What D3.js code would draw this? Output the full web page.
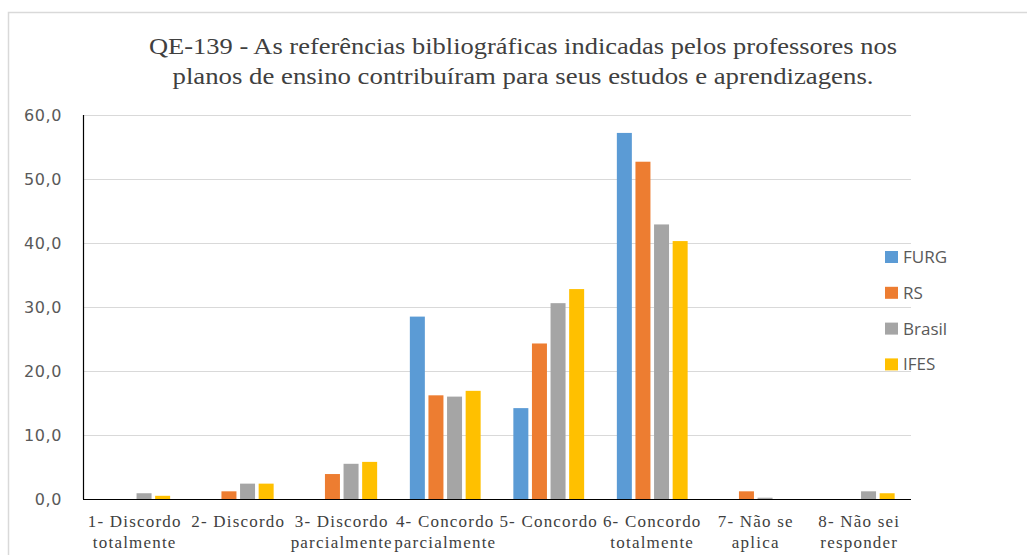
<!DOCTYPE html>
<html>
<head>
<meta charset="utf-8">
<script src="https://cdn.jsdelivr.net/npm/d3@7"></script>
<style>
  body { margin: 0; background: #fff; }
  svg { display: block; }
</style>
</head>
<body>
<svg id="chart" width="1027" height="555"></svg>
<script>
const titleLines = [
  'QE-139 - As referências bibliográficas indicadas pelos professores nos',
  'planos de ensino contribuíram para seus estudos e aprendizagens.'
];
const titleWidths = [748, 701];
const categories = [
  ['1- Discordo', 'totalmente'],
  ['2- Discordo'],
  ['3- Discordo', 'parcialmente'],
  ['4- Concordo', 'parcialmente'],
  ['5- Concordo'],
  ['6- Concordo', 'totalmente'],
  ['7- Não se', 'aplica'],
  ['8- Não sei', 'responder']
];
const seriesNames = ['FURG', 'RS', 'Brasil', 'IFES'];
const seriesColors = ['#5b9bd5', '#ed7d31', '#a5a5a5', '#ffc000'];
const furg   = [0, 0, 0, 28.5, 14.2, 57.2, 0, 0];
const rs     = [0, 1.2, 3.9, 16.2, 24.3, 52.7, 1.2, 0];
const brasil = [0.9, 2.4, 5.5, 16.0, 30.6, 42.9, 0.2, 1.2];
const ifes   = [0.5, 2.4, 5.8, 16.9, 32.8, 40.3, 0, 0.9];
const yTicks = [0, 10, 20, 30, 40, 50, 60];

const series = [furg, rs, brasil, ifes];
const svg = d3.select('#chart');

// chart frame
svg.append('rect')
  .attr('x', 8.5).attr('y', 12.5)
  .attr('width', 1040).attr('height', 560)
  .attr('fill', '#fff').attr('stroke', '#d9d9d9').attr('stroke-width', 1.5);

const plot = { left: 83, right: 911, top: 115, bottom: 499 };

const x = d3.scaleBand()
  .domain(d3.range(categories.length))
  .range([plot.left, plot.right]);

const y = d3.scaleLinear()
  .domain([0, 60])
  .range([plot.bottom, plot.top]);

const slot = 18.6;
const barW = 15;
const xs = d3.scaleBand()
  .domain(d3.range(seriesNames.length))
  .range([-slot * 2, slot * 2]);

// gridlines
svg.append('g')
  .selectAll('line')
  .data(yTicks.filter(d => d > 0))
  .join('line')
  .attr('x1', plot.left).attr('x2', plot.right)
  .attr('y1', d => y(d) + 0.5).attr('y2', d => y(d) + 0.5)
  .attr('stroke', '#d9d9d9').attr('stroke-width', 1.2);

// y tick labels
svg.append('g')
  .selectAll('text')
  .data(yTicks)
  .join('text')
  .attr('x', 62).attr('y', d => y(d))
  .attr('dy', '0.35em')
  .attr('text-anchor', 'end')
  .attr('font-family', 'DejaVu Sans')
  .attr('font-size', 16)
  .attr('letter-spacing', 0.6)
  .attr('fill', '#595959')
  .text(d => d3.format('.1f')(d).replace('.', ','));

// bars
series.forEach((vals, si) => {
  svg.append('g')
    .selectAll('rect')
    .data(vals)
    .join('rect')
    .attr('x', (d, i) => x(i) + x.bandwidth() / 2 + xs(si) + (slot - barW) / 2)
    .attr('y', d => y(d))
    .attr('width', barW)
    .attr('height', d => y(0) - y(d))
    .attr('fill', seriesColors[si]);
});

// axes lines
svg.append('line')
  .attr('x1', plot.left + 0.5).attr('x2', plot.left + 0.5)
  .attr('y1', plot.top).attr('y2', plot.bottom)
  .attr('stroke', '#000').attr('stroke-width', 1.2);
svg.append('line')
  .attr('x1', plot.left).attr('x2', plot.right)
  .attr('y1', plot.bottom + 0.5).attr('y2', plot.bottom + 0.5)
  .attr('stroke', '#000').attr('stroke-width', 1.2);

// x labels
const xl = svg.append('g')
  .selectAll('text')
  .data(categories)
  .join('text')
  .attr('x', (d, i) => x(i) + x.bandwidth() / 2)
  .attr('y', 527)
  .attr('text-anchor', 'middle')
  .attr('font-family', 'Liberation Serif')
  .attr('font-size', 17)
  .attr('letter-spacing', 1.2)
  .attr('fill', '#404040');
xl.selectAll('tspan')
  .data(d => d)
  .join('tspan')
  .attr('x', function () { return d3.select(this.parentNode).attr('x'); })
  .attr('dy', (d, i) => i === 0 ? 0 : 21)
  .text(d => d);

// title
svg.append('g')
  .selectAll('text')
  .data(titleLines)
  .join('text')
  .attr('x', 523)
  .attr('y', (d, i) => 54 + i * 30)
  .attr('text-anchor', 'middle')
  .attr('font-family', 'Liberation Serif')
  .attr('font-size', 24)
  .attr('textLength', (d, i) => titleWidths[i])
  .attr('lengthAdjust', 'spacingAndGlyphs')
  .attr('fill', '#404040')
  .text(d => d);

// legend
const leg = svg.append('g')
  .selectAll('g')
  .data(seriesNames)
  .join('g')
  .attr('transform', (d, i) => `translate(885, ${257 + i * 35.8})`);
leg.append('rect')
  .attr('x', 0).attr('y', -6)
  .attr('width', 13).attr('height', 12)
  .attr('fill', (d, i) => seriesColors[i]);
leg.append('text')
  .attr('x', 18).attr('y', 0)
  .attr('dy', '0.35em')
  .attr('font-family', 'Open Sans')
  .attr('font-size', 17)
  .attr('fill', '#595959')
  .text(d => d);
</script>
</body>
</html>
